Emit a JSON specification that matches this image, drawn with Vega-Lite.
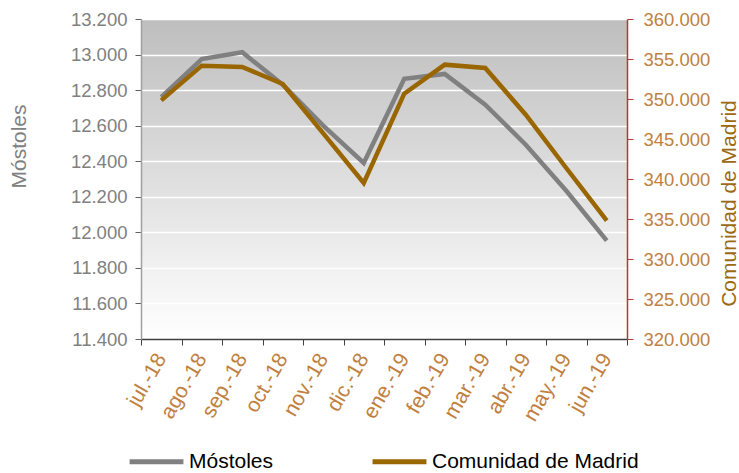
{
  "$schema": "https://vega.github.io/schema/vega-lite/v6.json",
  "width": 486,
  "height": 320,
  "padding": {"left": 8, "top": 10, "right": 0, "bottom": 5},
  "data": {"values": [
    {"mes": "jul.-18", "mostoles": 12760, "madrid": 349833},
    {"mes": "ago.-18", "mostoles": 12975, "madrid": 354167},
    {"mes": "sep.-18", "mostoles": 13013, "madrid": 354000},
    {"mes": "oct.-18", "mostoles": 12830, "madrid": 351875},
    {"mes": "nov.-18", "mostoles": 12600, "madrid": 345700},
    {"mes": "dic.-18", "mostoles": 12390, "madrid": 339500},
    {"mes": "ene.-19", "mostoles": 12864, "madrid": 350667},
    {"mes": "feb.-19", "mostoles": 12891, "madrid": 354292},
    {"mes": "mar.-19", "mostoles": 12718, "madrid": 353875},
    {"mes": "abr.-19", "mostoles": 12493, "madrid": 348042},
    {"mes": "may.-19", "mostoles": 12234, "madrid": 341375},
    {"mes": "jun.-19", "mostoles": 11953, "madrid": 334792}
  ]},
  "encoding": {
    "x": {
      "field": "mes", "type": "nominal", "sort": null, "title": null,
      "scale": {"paddingInner": 0, "paddingOuter": 0},
      "axis": {
        "labelAngle": -60, "labelAlign": "right", "labelBaseline": "middle",
        "labelColor": "#bf8040", "labelFontSize": 21, "labelFont": "Liberation Sans",
        "tickBand": "extent", "domainColor": "#404040", "tickColor": "#404040",
        "tickSize": 6, "labelPadding": 10, "domainWidth": 1.5
      }
    }
  },
  "layer": [
    {
      "mark": {"type": "line", "strokeWidth": 4.5},
      "encoding": {
        "y": {
          "field": "mostoles", "type": "quantitative", "title": "Móstoles",
          "scale": {"domain": [11400, 13200], "nice": false, "zero": false},
          "axis": {
            "values": [11400, 11600, 11800, 12000, 12200, 12400, 12600, 12800, 13000, 13200],
            "labelExpr": "replace(format(datum.value, ',d'), ',', '.')",
            "labelColor": "#808080", "labelFontSize": 18.5, "labelFont": "Liberation Sans",
            "labelPadding": 8,
            "titleColor": "#808080", "titleFontSize": 21, "titleFont": "Liberation Sans", "titleFontWeight": "normal",
            "titlePadding": 41, "titleY": 127, "titleAlign": "center",
            "domainColor": "#a0a0a0", "domainWidth": 1.5, "tickColor": "#606060", "tickSize": 6,
            "grid": true, "gridColor": "#ffffff", "gridWidth": 1.5
          }
        },
        "color": {"datum": "Móstoles"}
      }
    },
    {
      "mark": {"type": "line", "strokeWidth": 4.5},
      "encoding": {
        "y": {
          "field": "madrid", "type": "quantitative", "title": "Comunidad de Madrid",
          "scale": {"domain": [320000, 360000], "nice": false, "zero": false},
          "axis": {
            "orient": "right",
            "values": [320000, 325000, 330000, 335000, 340000, 345000, 350000, 355000, 360000],
            "labelExpr": "replace(format(datum.value, ',d'), ',', '.')",
            "labelColor": "#bf8040", "labelFontSize": 18.5, "labelFont": "Liberation Sans",
            "labelPadding": 10,
            "titleColor": "#9c6a12", "titleFontSize": 21, "titleFont": "Liberation Sans", "titleFontWeight": "normal",
            "titleAngle": 270, "titleBaseline": "top", "titleY": 184, "titleAlign": "center",
            "titlePadding": 9,
            "domainColor": "#b03a3a", "domainWidth": 1.5, "tickColor": "#b03a3a", "tickSize": 6,
            "grid": false
          }
        },
        "color": {"datum": "Comunidad de Madrid"}
      }
    }
  ],
  "resolve": {"scale": {"y": "independent"}},
  "config": {
    "view": {
      "stroke": null,
      "fill": {"gradient": "linear", "x1": 0, "y1": 0, "x2": 0, "y2": 1,
        "stops": [{"offset": 0, "color": "#bebebe"}, {"offset": 1, "color": "#ffffff"}]}
    },
    "legend": {
      "orient": "none", "legendX": -14, "legendY": 413, "direction": "horizontal", "title": null,
      "symbolType": "stroke", "symbolSize": 2900, "symbolStrokeWidth": 5,
      "labelFontSize": 21, "labelFont": "Liberation Sans", "labelColor": "#000000",
      "labelLimit": 0, "labelOffset": 3, "columnPadding": 88
    },
    "range": {"category": ["#808080", "#996600"]}
  }
}
